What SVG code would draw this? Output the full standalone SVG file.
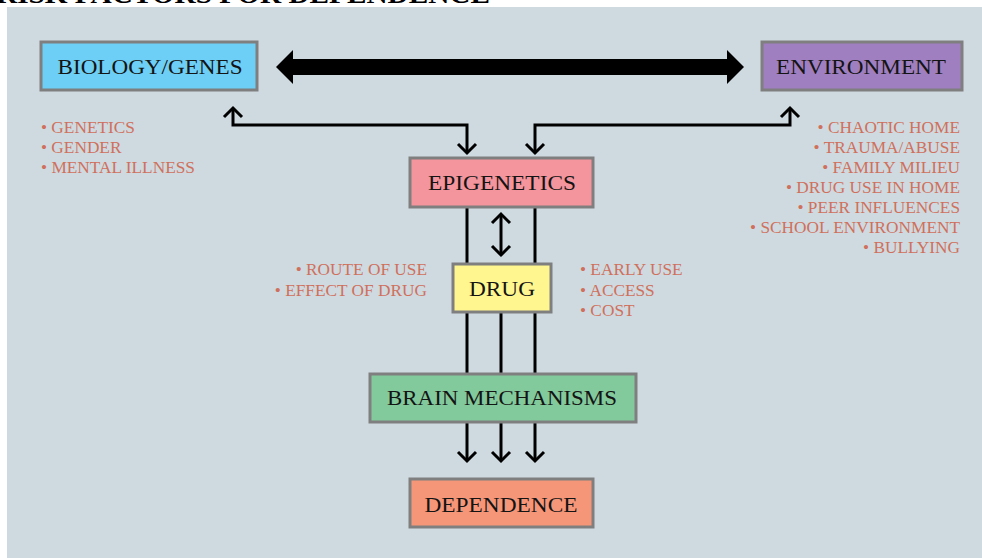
<svg xmlns="http://www.w3.org/2000/svg" width="982" height="558" viewBox="0 0 982 558">
<style>
.box{stroke:#7f7f7f;stroke-width:3}
.lbl{font-family:"Liberation Serif",serif;font-size:21px;fill:#141414;text-anchor:middle}
.li{font-family:"Liberation Serif",serif;font-size:17.3px;fill:#d0705c}
.con{fill:none;stroke:#000;stroke-width:3}
</style>
<defs>
<marker id="chev" markerUnits="userSpaceOnUse" viewBox="-12 -12 16 24" refX="0" refY="0" markerWidth="16" markerHeight="24" orient="auto-start-reverse">
<path d="M-9,-9 L0,0 L-9,9" fill="none" stroke="#000" stroke-width="3"/>
</marker>
</defs>
<rect x="0" y="0" width="982" height="558" fill="#ffffff"/>
<rect x="7" y="7" width="975" height="551" fill="#cfdae0"/>
<text x="-4" y="3" font-family="Liberation Serif,serif" font-weight="bold" font-size="28" textLength="494" lengthAdjust="spacingAndGlyphs" fill="#000">RISK FACTORS FOR DEPENDENCE</text>
<g id="connectors">
<polygon points="276,67 293,50 293,59 727,59 727,50 744,67 727,84 727,75 293,75 293,84" fill="#000"/>
<path class="con" d="M233,108 V125 H467 V153" marker-start="url(#chev)" marker-end="url(#chev)"/>
<path class="con" d="M790,108 V125 H535 V153" marker-start="url(#chev)" marker-end="url(#chev)"/>
<line class="con" x1="467" y1="207" x2="467" y2="374"/>
<line class="con" x1="535" y1="207" x2="535" y2="374"/>
<line class="con" x1="501" y1="312" x2="501" y2="374"/>
<line class="con" x1="501" y1="214" x2="501" y2="255" marker-start="url(#chev)" marker-end="url(#chev)"/>
<line class="con" x1="467" y1="422" x2="467" y2="461" marker-end="url(#chev)"/>
<line class="con" x1="501" y1="422" x2="501" y2="461" marker-end="url(#chev)"/>
<line class="con" x1="535" y1="422" x2="535" y2="461" marker-end="url(#chev)"/>
</g>
<g id="biology">
<rect class="box" x="41" y="42" width="216" height="48" fill="#6dcff6"/>
<text class="lbl" x="150" y="74" textLength="185" lengthAdjust="spacingAndGlyphs">BIOLOGY/GENES</text>
</g>
<g id="environment">
<rect class="box" x="762" y="42" width="200" height="48" fill="#a07fc0"/>
<text class="lbl" x="861" y="74" textLength="170" lengthAdjust="spacingAndGlyphs">ENVIRONMENT</text>
</g>
<g id="epigenetics">
<rect class="box" x="410" y="158" width="183" height="49" fill="#f4949c"/>
<text class="lbl" x="502" y="190" textLength="148" lengthAdjust="spacingAndGlyphs">EPIGENETICS</text>
</g>
<g id="drug">
<rect class="box" x="453" y="264" width="98" height="48" fill="#fff68f"/>
<text class="lbl" x="502" y="296" textLength="66" lengthAdjust="spacingAndGlyphs">DRUG</text>
</g>
<g id="brain">
<rect class="box" x="370" y="374" width="266" height="48" fill="#82ca9c"/>
<text class="lbl" x="502" y="405" textLength="230" lengthAdjust="spacingAndGlyphs">BRAIN MECHANISMS</text>
</g>
<g id="dependence">
<rect class="box" x="410" y="479" width="183" height="48" fill="#f69679"/>
<text class="lbl" x="501" y="512" textLength="153" lengthAdjust="spacingAndGlyphs">DEPENDENCE</text>
</g>
<g id="bio-list">
<text class="li" x="41" y="133">• GENETICS</text>
<text class="li" x="41" y="153">• GENDER</text>
<text class="li" x="41" y="173" textLength="154" lengthAdjust="spacingAndGlyphs">• MENTAL ILLNESS</text>
</g>
<g id="env-list" text-anchor="end">
<text class="li" x="960" y="133">• CHAOTIC HOME</text>
<text class="li" x="960" y="153">• TRAUMA/ABUSE</text>
<text class="li" x="960" y="173">• FAMILY MILIEU</text>
<text class="li" x="960" y="193">• DRUG USE IN HOME</text>
<text class="li" x="960" y="213">• PEER INFLUENCES</text>
<text class="li" x="960" y="233">• SCHOOL ENVIRONMENT</text>
<text class="li" x="960" y="253">• BULLYING</text>
</g>
<g id="drug-left" text-anchor="end">
<text class="li" x="427" y="275">• ROUTE OF USE</text>
<text class="li" x="427" y="296">• EFFECT OF DRUG</text>
</g>
<g id="drug-right">
<text class="li" x="580" y="275">• EARLY USE</text>
<text class="li" x="580" y="296">• ACCESS</text>
<text class="li" x="580" y="316">• COST</text>
</g>
</svg>
